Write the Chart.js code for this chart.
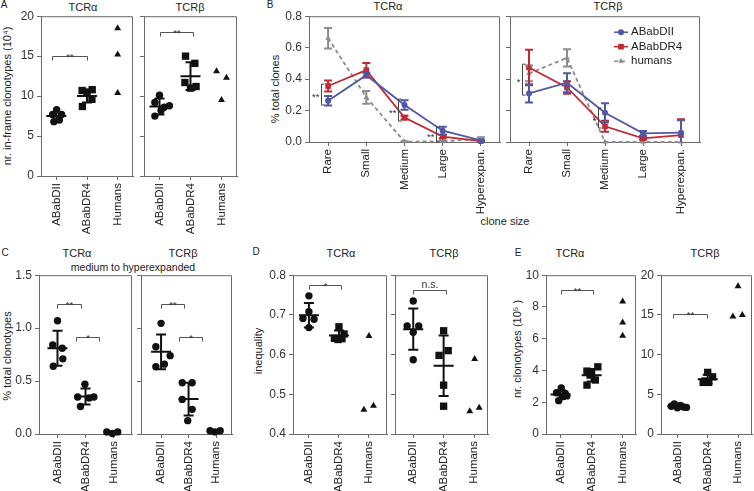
<!DOCTYPE html>
<html><head><meta charset="utf-8">
<script src="https://cdn.jsdelivr.net/npm/chart.js@4.4.1/dist/chart.umd.min.js"></script>
<style>
html,body{margin:0;padding:0;background:#fff;}
#wrap{position:relative;width:754px;height:491px;overflow:hidden;font-family:"Liberation Sans",Arial,Helvetica,sans-serif;color:#222;}
canvas{position:absolute;}
.t{position:absolute;white-space:nowrap;transform:translate(-50%,-50%);line-height:1;}
.r{transform:translate(-50%,-50%) rotate(-90deg);}
</style></head><body><div id="wrap"></div>
<script>
// ---------- data ----------
const groups = ['ABabDII', 'ABabDR4', 'Humans'];
const cloneSizes = ['Rare', 'Small', 'Medium', 'Large', 'Hyperexpan.'];

// A: nr. in-frame clonotypes (10^4)
const aAlphaDII = [8.3, 7.7, 7.7, 6.8, 7.0];
const aAlphaDR4 = [10.7, 10.8, 10.5, 9.6, 8.7];
const aAlphaHum = [18.5, 15.2, 10.4];
const aAlphaMean = [7.5, 10.0];
const aAlphaSD = [0.45, 0.8];
const aAlphaJit = [[0.01, -0.12, 0.17, -0.08, 0.1], [-0.16, 0.17, 0, 0.16, -0.15], [0, 0, 0]];
const aBetaDII = [10.1, 9.2, 8.6, 8.8, 7.5, 8.2];
const aBetaDR4 = [15.0, 14.1, 11.7, 11.0, 11.2];
const aBetaHum = [13.1, 12.3, 9.5];
const aBetaMean = [8.7, 12.5];
const aBetaSD = [1.0, 1.75];
const aBetaJit = [[0, -0.15, 0.15, 0.32, -0.15, 0.05], [-0.16, 0.14, -0.18, 0, 0.18], [-0.16, 0.16, 0]];
const aAlphaSig = [[-0.15, 1.0, 15.0, '**']];
const aBetaSig = [[0, 1.07, 18.0, '**']];

// B: % total clones by clone size
const bAlphaDII = [0.262, 0.425, 0.235, 0.072, 0.01];
const bAlphaDIIErr = [0.03, 0.015, 0.03, 0.025, 0.005];
const bAlphaDR4 = [0.356, 0.457, 0.155, 0.034, 0.006];
const bAlphaDR4Err = [0.035, 0.045, 0.012, 0.01, 0.004];
const bAlphaHum = [0.66, 0.284, 0.002, 0.005, 0.02];
const bAlphaHumErr = [0.065, 0.04, 0.002, 0.004, 0.01];
const bBetaDII = [0.309, 0.377, 0.186, 0.055, 0.059];
const bBetaDIIErr = [0.058, 0.06, 0.06, 0.015, 0.08];
const bBetaDR4 = [0.474, 0.347, 0.10, 0.023, 0.044];
const bBetaDR4Err = [0.113, 0.04, 0.035, 0.008, 0.1];
const bBetaHum = [0.436, 0.535, 0.0, 0.0, 0.0];
const bBetaHumErr = [0.05, 0.055, 0.0, 0.0, 0.0];
const bAlphaSig = [[0, 0.368, 0.235, '**'], [2, 0.273, 0.133, '**'], [3, 0.095, 0.0, '**']];
const bBetaSig = [[0, 0.495, 0.298, '*'], [2, 0.216, 0.089, '*']];

// C: % total clonotypes (medium to hyperexpanded)
const cAlphaDII = [1.07, 0.84, 0.81, 0.71, 0.64];
const cAlphaDR4 = [0.47, 0.35, 0.34, 0.35, 0.26];
const cAlphaHum = [0.02, 0.005, 0.02];
const cAlphaMean = [0.81, 0.354];
const cAlphaSD = [0.165, 0.075];
const cAlphaJit = [[0, -0.17, 0.17, 0.19, -0.15], [-0.02, -0.28, 0.13, 0.3, -0.18], [-0.24, -0.04, 0.15]];
const cBetaDII = [1.045, 0.824, 0.635, 0.66, 0.74];
const cBetaDR4 = [0.484, 0.484, 0.327, 0.233, 0.126];
const cBetaHum = [0.03, 0.02, 0.03];
const cBetaMean = [0.776, 0.33];
const cBetaSD = [0.165, 0.155];
const cBetaJit = [[0, -0.19, -0.19, 0.12, 0.33], [-0.23, 0.13, -0.23, 0.13, -0.03], [-0.22, -0.04, 0.15]];
const cAlphaSig = [[0, 0.84, 1.23, '**'], [0.66, 1.48, 0.92, '*']];
const cBetaSig = [[0, 0.84, 1.23, '**'], [0.65, 1.5, 0.92, '*']];

// D: inequality
const dAlphaDII = [0.748, 0.708, 0.691, 0.689, 0.668];
const dAlphaDR4 = [0.670, 0.652, 0.641, 0.638, 0.640];
const dAlphaHum = [0.647, 0.461, 0.471];
const dAlphaMean = [0.699, 0.648];
const dAlphaSD = [0.031, 0.013];
const dAlphaJit = [[0, 0, -0.2, 0.17, 0], [0, 0.17, -0.15, -0.03, 0.1], [0, -0.17, 0.15]];
const dBetaDII = [0.735, 0.672, 0.672, 0.656, 0.587];
const dBetaDR4 = [0.66, 0.61, 0.598, 0.523, 0.47];
const dBetaHum = [0.589, 0.457, 0.466];
const dBetaMean = [0.664, 0.572];
const dBetaSD = [0.052, 0.076];
const dBetaJit = [[0, -0.2, 0.18, 0, 0], [0, 0.15, -0.15, 0, 0], [0.02, -0.14, 0.17]];
const dAlphaSig = [[0, 1.06, 0.775, '*']];
const dBetaSig = [[0, 1.09, 0.762, 'n.s.']];

// E: nr. clonotypes (10^5)
const eAlphaDII = [2.9, 2.6, 2.55, 2.35, 2.1, 2.4];
const eAlphaDR4 = [4.23, 3.8, 3.96, 3.4, 3.08, 3.71];
const eAlphaHum = [8.34, 7.02, 6.18];
const eAlphaMean = [2.48, 3.7];
const eAlphaSD = [0.28, 0.4];
const eAlphaJit = [[0.02, -0.13, 0.15, 0.05, -0.06, 0.2], [0.2, 0, -0.15, 0.12, -0.15, -0.05], [0, 0, 0]];
const eBetaDII = [3.8, 3.6, 3.5, 3.4, 3.3, 3.35];
const eBetaDR4 = [7.76, 7.2, 6.67, 6.5, 6.5];
const eBetaHum = [18.6, 14.8, 15.0];
const eBetaMean = [3.5, 6.9];
const eBetaSD = [0.2, 0.55];
const eBetaJit = [[-0.1, 0.1, -0.2, 0.2, 0, 0.3], [0, 0.16, -0.09, 0.03, -0.15], [0, -0.17, 0.14]];
const eAlphaSig = [[0, 1.05, 9.06, '**']];
const eBetaSig = [[-0.15, 0.97, 15.1, '**']];

// ---------- layout / style ----------
const FF = '"Liberation Sans", Arial, Helvetica, sans-serif';
const INK = '#111';
const AX = '#6a6a6a';
const BLUE = '#5257a6', RED = '#c22a33', GRAY = '#8c8c8c';
const M = {l: 40, t: 10, r: 10, b: 72};
const wrap = document.getElementById('wrap');

const texts = [
  ['A', 4, 5, 10], ['TCRα', 83, 7, 11], ['TCRβ', 190, 7, 11],
  ['B', 270, 5, 10], ['TCRα', 388, 6, 11], ['TCRβ', 608, 6, 11],
  ['clone size', 505, 221, 11],
  ['C', 5, 253, 10], ['TCRα', 77, 253, 11], ['TCRβ', 183, 253, 11],
  ['medium to hyperexpanded', 133, 267, 10.5],
  ['D', 256, 252, 10], ['TCRα', 341, 253, 11], ['TCRβ', 444, 253, 11],
  ['E', 518, 253, 10], ['TCRα', 570, 253, 11], ['TCRβ', 705, 253, 11]
];
const yTitles = [
  ['nr. in-frame clonotypes (10⁴)', 7, 96], ['% total clones', 275, 89],
  ['% total clonotypes', 7, 356], ['inequality', 258, 351], ['nr. clonotypes (10⁵ )', 517, 349]
];
texts.forEach(([s, x, y, f]) => {
  const d = document.createElement('div'); d.className = 't'; d.textContent = s;
  d.style.left = x + 'px'; d.style.top = y + 'px'; d.style.fontSize = f + 'px'; wrap.appendChild(d);
});
yTitles.forEach(([s, x, y]) => {
  const d = document.createElement('div'); d.className = 't r'; d.textContent = s;
  d.style.left = x + 'px'; d.style.top = y + 'px'; d.style.fontSize = '11px'; wrap.appendChild(d);
});

function mkCanvas(rect) {
  const c = document.createElement('canvas');
  const w = rect.r - rect.l + M.l + M.r, h = rect.b - rect.t + M.t + M.b;
  c.width = w; c.height = h;
  c.style.left = (rect.l - M.l) + 'px'; c.style.top = (rect.t - M.t) + 'px';
  c.style.width = w + 'px'; c.style.height = h + 'px';
  wrap.appendChild(c);
  return c;
}

const framePl = {id: 'frame', afterDraw(ch) {
  const {ctx, chartArea: a} = ch;
  ctx.save(); ctx.strokeStyle = AX; ctx.lineWidth = 1; ctx.beginPath();
  ctx.moveTo(a.left, a.top + 0.5); ctx.lineTo(a.right - 0.5, a.top + 0.5); ctx.lineTo(a.right - 0.5, a.bottom);
  ctx.stroke(); ctx.restore();
}};

function statPl(means, sds) {
  return {id: 'stat', afterDatasetsDraw(ch) {
    const {ctx} = ch, xs = ch.scales.x, ys = ch.scales.y;
    ctx.save(); ctx.lineWidth = 2; ctx.strokeStyle = INK;
    means.forEach((m, i) => {
      const px = xs.getPixelForValue(i), pm = ys.getPixelForValue(m);
      const pt = ys.getPixelForValue(m + sds[i]), pb = ys.getPixelForValue(m - sds[i]);
      ctx.beginPath();
      ctx.moveTo(px - 10, pm); ctx.lineTo(px + 10, pm);
      ctx.moveTo(px, pt); ctx.lineTo(px, pb);
      ctx.moveTo(px - 5, pt); ctx.lineTo(px + 5, pt);
      ctx.moveTo(px - 5, pb); ctx.lineTo(px + 5, pb);
      ctx.stroke();
    });
    ctx.restore();
  }};
}

function sigPl(list) {
  return {id: 'sig', afterDraw(ch) {
    const {ctx} = ch, xs = ch.scales.x, ys = ch.scales.y;
    ctx.save(); ctx.strokeStyle = '#555'; ctx.fillStyle = '#333'; ctx.lineWidth = 1;
    ctx.textAlign = 'center';
    list.forEach(([x1, x2, y, txt]) => {
      const p1 = Math.round(xs.getPixelForValue(x1)) + 0.5, p2 = Math.round(xs.getPixelForValue(x2)) + 0.5;
      const py = Math.round(ys.getPixelForValue(y)) + 0.5;
      ctx.beginPath(); ctx.moveTo(p1, py + 4); ctx.lineTo(p1, py); ctx.lineTo(p2, py); ctx.lineTo(p2, py + 4); ctx.stroke();
      if (txt === 'n.s.') { ctx.font = '10.5px ' + FF; ctx.textBaseline = 'alphabetic'; ctx.fillText(txt, (p1 + p2) / 2, py - 3); }
      else { ctx.font = '9.5px ' + FF; ctx.textBaseline = 'alphabetic'; ctx.fillText(txt, (p1 + p2) / 2, py + 3); }
    });
    ctx.restore();
  }};
}

function yScale(min, max, step, show, fmt) {
  return {type: 'linear', min, max, afterFit: s => { s.width = M.l; },
    ticks: {stepSize: step, color: '#333', font: {size: 12, family: FF}, padding: 3,
      callback: v => show ? fmt(v) : ''},
    grid: {drawOnChartArea: false, tickLength: 4, color: AX},
    border: {color: AX}};
}

const STD = ['circle', 'rect', 'triangle'];
const ROUND = ['circle', 'circle', 'circle'];
const RADIUS = {circle: 3.7, rect: 5.2, triangle: 4};

function scatterPanel(rect, xr, yr, sets, jit, means, sds, sig, showY, fmt, shapes) {
  const datasets = sets.map((vals, g) => ({
    type: 'scatter',
    data: vals.map((v, i) => ({x: g + jit[g][i], y: v})),
    pointStyle: shapes[g], pointRadius: RADIUS[shapes[g]], pointHoverRadius: RADIUS[shapes[g]],
    backgroundColor: INK, borderColor: INK, borderWidth: 0, clip: false
  }));
  new Chart(mkCanvas(rect), {
    type: 'scatter', data: {datasets},
    options: {
      responsive: false, animation: false, devicePixelRatio: 1,
      layout: {padding: {left: 0, top: M.t, right: M.r, bottom: 0}},
      plugins: {legend: {display: false}, tooltip: {enabled: false}},
      scales: {
        x: {type: 'linear', min: xr[0], max: xr[1],
          afterBuildTicks: s => { s.ticks = groups.map((g, i) => ({value: i})); },
          afterFit: s => { s.height = M.b; },
          ticks: {autoSkip: false, maxRotation: 90, minRotation: 90, color: '#222',
            font: {size: 11.5, family: FF}, padding: 3, callback: v => groups[v]},
          grid: {drawOnChartArea: false, tickLength: 4, color: AX}, border: {color: AX}},
        y: yScale(yr[0], yr[1], yr[2], showY, fmt)
      }
    },
    plugins: [framePl, statPl(means, sds), sigPl(sig)]
  });
}

function drawMarker(ctx, style, x, y, r) {
  ctx.beginPath();
  if (style === 'circle') ctx.arc(x, y, r, 0, Math.PI * 2);
  else if (style === 'rect') { const s = r * Math.SQRT1_2; ctx.rect(x - s, y - s, 2 * s, 2 * s); }
  else { ctx.moveTo(x, y - r); ctx.lineTo(x + r * 0.866, y + r * 0.5); ctx.lineTo(x - r * 0.866, y + r * 0.5); ctx.closePath(); }
  ctx.fill();
}

const errPl = {id: 'err', afterDatasetsDraw(ch) {
  const {ctx, chartArea: a} = ch, xs = ch.scales.x, ys = ch.scales.y;
  ctx.save(); ctx.beginPath(); ctx.rect(a.left, a.top - 2, a.right - a.left, a.bottom - a.top + 2); ctx.clip();
  ctx.lineWidth = 2;
  for (let d = ch.data.datasets.length - 1; d >= 0; d--) {
    const ds = ch.data.datasets[d];
    ctx.strokeStyle = ds.borderColor;
    ds.data.forEach((v, i) => {
      const e = ds.errs[i]; if (!e) return;
      const px = xs.getPixelForValue(i), pt = ys.getPixelForValue(v + e), pb = ys.getPixelForValue(v - e);
      ctx.beginPath(); ctx.moveTo(px, pt); ctx.lineTo(px, pb);
      ctx.moveTo(px - 4, pt); ctx.lineTo(px + 4, pt); ctx.moveTo(px - 4, pb); ctx.lineTo(px + 4, pb); ctx.stroke();
    });
  }
  ctx.restore();
}};

function brkPl(list) {
  return {id: 'brk', afterDraw(ch) {
    const {ctx} = ch, xs = ch.scales.x, ys = ch.scales.y;
    ctx.save(); ctx.strokeStyle = '#444'; ctx.fillStyle = '#333'; ctx.lineWidth = 1;
    ctx.font = '9.5px ' + FF; ctx.textAlign = 'right'; ctx.textBaseline = 'middle';
    list.forEach(([c, y1, y2, txt]) => {
      const px = Math.round(xs.getPixelForValue(c)) - 6.5;
      const p1 = ys.getPixelForValue(y1), p2 = ys.getPixelForValue(y2);
      ctx.beginPath(); ctx.moveTo(px + 3, p1); ctx.lineTo(px, p1); ctx.lineTo(px, p2); ctx.lineTo(px + 3, p2); ctx.stroke();
      ctx.fillText(txt, px - 2, (p1 + p2) / 2 + 3);
    });
    ctx.restore();
  }};
}

const legendPl = {id: 'lg', afterDraw(ch) {
  const {ctx, chartArea: a} = ch;
  const x0 = a.right - 86, y0 = a.top + 16;
  ctx.save(); ctx.font = '11.5px ' + FF; ctx.textBaseline = 'middle'; ctx.textAlign = 'left';
  ch.data.datasets.forEach((ds, i) => {
    const y = y0 + i * 14.5;
    ctx.strokeStyle = ds.borderColor; ctx.fillStyle = ds.borderColor; ctx.lineWidth = 1.5;
    ctx.setLineDash(ds.borderDash || []);
    ctx.beginPath(); ctx.moveTo(x0, y); ctx.lineTo(x0 + 14, y); ctx.stroke(); ctx.setLineDash([]);
    drawMarker(ctx, ds.pointStyle, x0 + 7, y, ds.pointRadius);
    ctx.fillStyle = '#222'; ctx.fillText(ds.label, x0 + 17, y);
  });
  ctx.restore();
}};

function linePanel(rect, dii, diiE, dr4, dr4E, hum, humE, sig, showY, legend) {
  const mk = (label, data, errs, color, style, r, dash) => ({
    label, data, errs, borderColor: color, backgroundColor: color, pointStyle: style,
    pointRadius: r, pointHoverRadius: r, pointBorderWidth: 0, borderWidth: 1.8,
    borderDash: dash, tension: 0, clip: false
  });
  const pls = [framePl, errPl, brkPl(sig)];
  if (legend) pls.push(legendPl);
  new Chart(mkCanvas(rect), {
    type: 'line',
    data: {labels: cloneSizes, datasets: [
      mk('ABabDII', dii, diiE, BLUE, 'circle', 3, undefined),
      mk('ABabDR4', dr4, dr4E, RED, 'rect', 4, undefined),
      mk('humans', hum, humE, GRAY, 'triangle', 3.2, [4, 3])
    ]},
    options: {
      responsive: false, animation: false, devicePixelRatio: 1,
      layout: {padding: {left: 0, top: M.t, right: M.r, bottom: 0}},
      plugins: {legend: {display: false}, tooltip: {enabled: false}},
      scales: {
        x: {type: 'category', offset: true, afterFit: s => { s.height = M.b; },
          ticks: {autoSkip: false, maxRotation: 90, minRotation: 90, color: '#222', font: {size: 11.5, family: FF}, padding: 3},
          grid: {drawOnChartArea: false, offset: false, tickLength: 4, color: AX}, border: {color: AX}},
        y: yScale(0, 0.8, 0.2, showY, v => v.toFixed(1))
      }
    },
    plugins: pls
  });
}

const int = v => String(v);
const f1 = v => v.toFixed(1);

scatterPanel({l: 41, t: 16, r: 133, b: 176}, [-0.5, 2.5], [0, 20, 5], [aAlphaDII, aAlphaDR4, aAlphaHum], aAlphaJit, aAlphaMean, aAlphaSD, aAlphaSig, true, int, STD);
scatterPanel({l: 144, t: 16, r: 237, b: 176}, [-0.5, 2.5], [0, 20, 5], [aBetaDII, aBetaDR4, aBetaHum], aBetaJit, aBetaMean, aBetaSD, aBetaSig, false, int, STD);
linePanel({l: 309, t: 16, r: 500, b: 142}, bAlphaDII, bAlphaDIIErr, bAlphaDR4, bAlphaDR4Err, bAlphaHum, bAlphaHumErr, bAlphaSig, true, false);
linePanel({l: 510, t: 16, r: 700, b: 142}, bBetaDII, bBetaDIIErr, bBetaDR4, bBetaDR4Err, bBetaHum, bBetaHumErr, bBetaSig, false, true);
scatterPanel({l: 39, t: 275, r: 132, b: 434}, [-0.66, 2.66], [0, 1.5, 0.5], [cAlphaDII, cAlphaDR4, cAlphaHum], cAlphaJit, cAlphaMean, cAlphaSD, cAlphaSig, true, f1, ROUND);
scatterPanel({l: 141, t: 275, r: 232, b: 434}, [-0.73, 2.58], [0, 1.5, 0.5], [cBetaDII, cBetaDR4, cBetaHum], cBetaJit, cBetaMean, cBetaSD, cBetaSig, false, f1, ROUND);
scatterPanel({l: 293, t: 275, r: 387, b: 434}, [-0.53, 2.6], [0.4, 0.8, 0.1], [dAlphaDII, dAlphaDR4, dAlphaHum], dAlphaJit, dAlphaMean, dAlphaSD, dAlphaSig, true, f1, STD);
scatterPanel({l: 395, t: 275, r: 488, b: 434}, [-0.6, 2.46], [0.4, 0.8, 0.1], [dBetaDII, dBetaDR4, dBetaHum], dBetaJit, dBetaMean, dBetaSD, dBetaSig, false, f1, STD);
scatterPanel({l: 546, t: 275, r: 636, b: 434}, [-0.47, 2.43], [0, 10, 2], [eAlphaDII, eAlphaDR4, eAlphaHum], eAlphaJit, eAlphaMean, eAlphaSD, eAlphaSig, true, int, STD);
scatterPanel({l: 661, t: 275, r: 752, b: 434}, [-0.54, 2.46], [0, 20, 5], [eBetaDII, eBetaDR4, eBetaHum], eBetaJit, eBetaMean, eBetaSD, eBetaSig, true, int, STD);
</script></body></html>
